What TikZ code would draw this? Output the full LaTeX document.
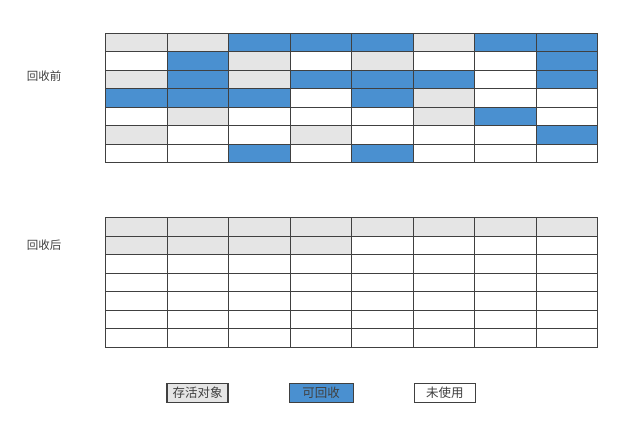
\documentclass[tikz,border=0pt]{standalone}
\usepackage{fontspec}
\newfontfamily\cjk{Noto Sans CJK SC}
\usetikzlibrary{positioning}
\definecolor{colG}{gray}{0.9}
\definecolor{colB}{RGB}{74,144,208}
\colorlet{colW}{white}
\colorlet{colorLine}{black!75}
\tikzset{
   cell/.style={draw=colorLine,line width=1pt,minimum width=61.5pt,minimum height=18.5pt,inner sep=0pt,anchor=north west},
   key/.style={draw=colorLine,line width=1.2pt,minimum height=19pt,inner sep=0pt,font=\cjk\fontsize{12.5}{14}\selectfont,text=black!75},
   side/.style={font=\cjk\fontsize{11.5}{13}\selectfont,text=black!75},
}

\begin{document}
\begin{tikzpicture}[x=1pt,y=-1pt]
      \useasboundingbox (0,0) rectangle (636,446);

      % before collection
      \foreach \row [count=\r] in {{G,G,B,B,B,G,B,B},{W,B,G,W,G,W,W,B},{G,B,G,B,B,B,W,B},
                                   {B,B,B,W,B,G,W,W},{W,G,W,W,W,G,B,W},{G,W,W,G,W,W,W,B},
                                   {W,W,B,W,B,W,W,W}}
        \foreach \c [count=\k] in \row
          \node (a-\r-\k) [cell,fill=col\c] at ({105+61.5*(\k-1)},{33+18.5*(\r-1)}) {};

      % after collection
      \foreach \row [count=\r] in {{G,G,G,G,G,G,G,G},{G,G,G,G,W,W,W,W},{W,W,W,W,W,W,W,W},
                                   {W,W,W,W,W,W,W,W},{W,W,W,W,W,W,W,W},{W,W,W,W,W,W,W,W},
                                   {W,W,W,W,W,W,W,W}}
        \foreach \c [count=\k] in \row
          \node (b-\r-\k) [cell,fill=col\c] at ({105+61.5*(\k-1)},{217+18.5*(\r-1)}) {};

      \node (before) [side] at (44,76) {回收前};
      \node (after) [side] at (44,245) {回收后};

      % legend
      \node (live) [key,fill=colG,minimum width=61pt] at (197.5,393) {存活对象};
      \node (free) [key,fill=colB,minimum width=64pt,right=60pt of live] {可回收};
      \node (unused) [key,fill=colW,minimum width=61pt,right=60pt of free] {未使用};
\end{tikzpicture}
\end{document}
